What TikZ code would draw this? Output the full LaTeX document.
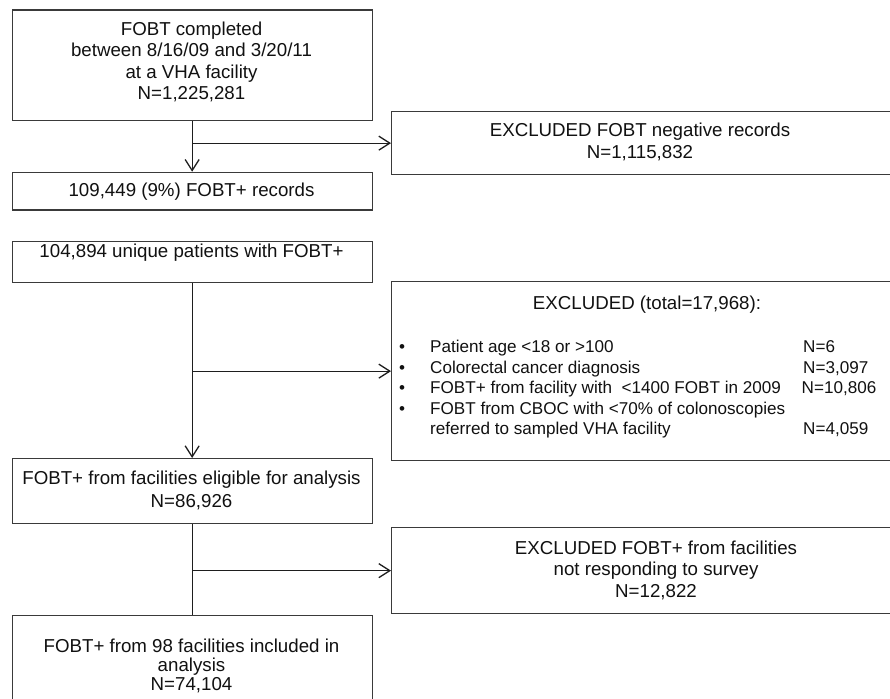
\documentclass[tikz,border=0pt]{standalone}
\usepackage{fontspec}
\setmainfont{Liberation Sans}
\usetikzlibrary{arrows.meta}
\definecolor{boxc}{HTML}{3A3A3A}
\definecolor{linec}{HTML}{1E1E1E}
\definecolor{txtc}{HTML}{111111}
\begin{document}
\begin{tikzpicture}[x=1pt,y=-1pt,
  box/.style={draw=boxc, line width=1.3pt, inner sep=0pt, anchor=north west},
  txt/.style={inner sep=0pt, align=center, text=txtc, font=\fontsize{18.7}{21.5}\selectfont},
  itm/.style={txt, font=\fontsize{17.1}{20}\selectfont},
  ln/.style={draw=linec, line width=1.3pt},
  arr/.style={ln, -{Straight Barb[length=11pt,width=14pt,line width=1.3pt]}}]
\useasboundingbox (0,0) rectangle (890,698);
\clip (0,0) rectangle (890,698);
\fill[white] (0,0) rectangle (890,698);
% left column boxes
\node[box, minimum width=360pt, minimum height=110.7pt] (b1) at (11.5,9.3) {};
\node[box, minimum width=360pt, minimum height=37.6pt] (b2) at (11.5,171.7) {};
\node[box, minimum width=360pt, minimum height=41pt] (b3) at (11.5,241) {};
\node[box, minimum width=360pt, minimum height=65pt] (b4) at (11.5,458) {};
\node[box, minimum width=360pt, minimum height=100pt] (b5) at (11.5,615) {};
% right column boxes
\node[box, minimum width=501pt, minimum height=63pt] (rb1) at (391,111) {};
\node[box, minimum width=501pt, minimum height=179pt] (rb2) at (391,281) {};
\node[box, minimum width=501pt, minimum height=86pt] (rb3) at (391,527) {};
% connectors
\draw[arr] (b1.south) -- (b2.north);
\draw[arr] (b1.south |- rb1.west) -- (rb1.west);
\draw[arr] (b3.south) -- (b4.north);
\draw[arr] (b3.south |- rb2.west) -- (rb2.west);
\draw[ln] (b4.south) -- (b5.north);
\draw[arr] (b4.south |- rb3.west) -- (rb3.west);
% left texts
\node[txt] (t1) at (191.5,62) {FOBT completed\\between 8/16/09 and 3/20/11\\at a VHA facility\\N=1,225,281};
\node[txt, anchor=base] (t2) at (191.5,196.7) {109,449 (9\%) FOBT+ records};
\node[txt, anchor=base] (t3) at (191.5,257.4) {104,894 unique patients with FOBT+};
\node[txt, font=\fontsize{18.7}{23.4}\selectfont] (t4) at (191.5,490.5) {FOBT+ from facilities eligible for analysis\\N=86,926};
\node[txt, font=\fontsize{18.7}{19}\selectfont] (t5) at (191.5,665.5) {FOBT+ from 98 facilities included in\\analysis\\N=74,104};
% right texts
\node[txt] (r1) at (640,142) {EXCLUDED FOBT negative records\\N=1,115,832};
\node[txt, anchor=base] (r2) at (647,309) {EXCLUDED (total=17,968):};
\node[txt] (r3) at (656,570) {EXCLUDED FOBT+ from facilities\\not responding to survey\\N=12,822};
% bullet list
\node[itm, anchor=base] (u1) at (402,352.7) {\textbullet};
\node[itm, anchor=base] (u2) at (402,373.2) {\textbullet};
\node[itm, anchor=base] (u3) at (402,393.8) {\textbullet};
\node[itm, anchor=base] (u4) at (402,414.8) {\textbullet};
\node[itm, anchor=base west] (i1) at (430,352.7) {Patient age <18 or >100};
\node[itm, anchor=base west] (i2) at (430,373.2) {Colorectal cancer diagnosis};
\node[itm, anchor=base west] (i3) at (430,393.8) {FOBT+ from facility with \ <1400 FOBT in 2009};
\node[itm, anchor=base west] (i4) at (430,414.8) {FOBT from CBOC with <70\% of colonoscopies};
\node[itm, anchor=base west] (i5) at (430,434.2) {referred to sampled VHA facility};
\node[itm, anchor=base west] (n1) at (803,352.7) {N=6};
\node[itm, anchor=base west] (n2) at (803,373.2) {N=3,097};
\node[itm, anchor=base west] (n3) at (801.5,393.8) {N=10,806};
\node[itm, anchor=base west] (n4) at (803,434.2) {N=4,059};
\end{tikzpicture}
\end{document}
